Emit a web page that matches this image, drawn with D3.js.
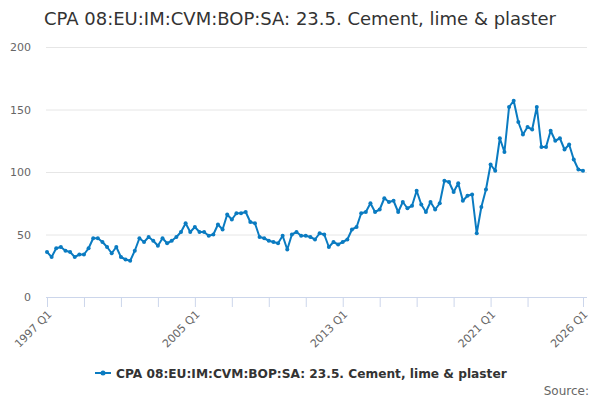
<!DOCTYPE html>
<html>
<head>
<meta charset="utf-8">
<script src="https://cdn.jsdelivr.net/npm/d3@7/dist/d3.min.js"></script>
<style>
  html, body { margin: 0; padding: 0; background: #fff; }
  svg { display: block; font-family: "DejaVu Sans", Verdana, sans-serif; }
</style>
</head>
<body>
<div id="chart"></div>
<script>
const titleText = "CPA 08:EU:IM:CVM:BOP:SA: 23.5. Cement, lime & plaster";
const seriesName = "CPA 08:EU:IM:CVM:BOP:SA: 23.5. Cement, lime & plaster";
const sourceText = "Source:";

const startYear = 1997;
const quarterCount = 117;
const categories = d3.range(quarterCount).map(i => (startYear + Math.floor(i / 4)) + " Q" + (i % 4 + 1));

const values = [
  36, 32, 39, 40, 37, 36, 32, 34, 34, 39, 47, 47, 44, 40, 35, 40,
  32, 30, 29, 37, 47, 44, 48, 45, 41, 47, 43, 45, 48, 52, 59, 52,
  56, 52, 52, 49, 50, 58, 54, 66, 62, 67, 67, 68, 60, 59, 48, 47,
  45, 44, 43, 49, 38, 50, 52, 49, 49, 48, 46, 51, 50, 40, 44, 42,
  44, 46, 54, 56, 67, 68, 75, 68, 70, 79, 76, 77, 68, 76, 71, 73,
  85, 74, 68, 76, 70, 75, 93, 92, 84, 91, 77, 81, 82, 51, 72, 86,
  106, 101, 127, 116, 152, 157, 140, 130, 136, 134, 152, 120, 120, 133, 125, 127,
  118, 122, 110, 102, 101
];

const yTicks = [0, 50, 100, 150, 200];
const xTickLabels = ["1997 Q1", "2005 Q1", "2013 Q1", "2021 Q1", "2026 Q1"];
const xTickMarks = ["1997 Q1", "1999 Q1", "2001 Q1", "2003 Q1", "2005 Q1", "2007 Q1", "2009 Q1",
  "2011 Q1", "2013 Q1", "2015 Q1", "2017 Q1", "2019 Q1", "2021 Q1", "2023 Q1", "2026 Q1"];

const W = 600, H = 400;
const plotLeft = 46, plotRight = 587, plotTop = 47, plotBottom = 297;
const lineColor = "#0a7bc1";

const svg = d3.select("#chart").append("svg").attr("width", W).attr("height", H);

const x = d3.scaleLinear().domain([0, quarterCount - 1]).range([47, 583]);
const y = d3.scaleLinear().domain([0, 200]).range([plotBottom, plotTop]);
const idx = c => categories.indexOf(c);

// Title
svg.append("text").attr("x", 300).attr("y", 25).attr("text-anchor", "middle")
  .attr("font-size", 18).attr("fill", "#333").text(titleText);

// Grid + y labels
const yAxis = d3.axisLeft(y).tickValues(yTicks).tickSize(-(plotRight - plotLeft)).tickPadding(15);
const gy = svg.append("g").attr("transform", `translate(${plotLeft},0)`).call(yAxis);
gy.select(".domain").remove();
gy.selectAll(".tick line").attr("stroke", "#e6e6e6").attr("stroke-width", 1);
gy.selectAll(".tick text").attr("fill", "#666").attr("font-size", 11)
  .attr("font-family", "DejaVu Sans, sans-serif");
gy.selectAll(".tick").filter(d => d === 0).select("line").remove();

// X axis
const xAxis = d3.axisBottom(x).tickValues(xTickMarks.map(idx)).tickSize(10)
  .tickFormat(d => xTickLabels.includes(categories[d]) ? categories[d] : "");
const gx = svg.append("g").attr("transform", `translate(0,${plotBottom})`).call(xAxis);
gx.select(".domain").attr("d", `M${plotLeft},0.5H${plotRight}`).attr("stroke", "#ccd6eb");
gx.selectAll(".tick line").attr("stroke", "#ccd6eb");
gx.selectAll(".tick text").attr("fill", "#666").attr("font-size", 11)
  .attr("font-family", "DejaVu Sans, sans-serif")
  .attr("text-anchor", "end").attr("dy", null)
  .attr("transform", "translate(5,18) rotate(-45)")
  .attr("y", 0).attr("x", 0);

// Line
const data = values.map((v, i) => ({ i, v }));
const line = d3.line().x(d => x(d.i)).y(d => y(d.v));
svg.append("path").datum(data).attr("d", line).attr("fill", "none")
  .attr("stroke", lineColor).attr("stroke-width", 2).attr("stroke-linejoin", "round");
svg.append("g").selectAll("circle").data(data).join("circle")
  .attr("cx", d => x(d.i)).attr("cy", d => y(d.v)).attr("r", 2).attr("fill", lineColor);

// Legend
const lg = svg.append("g").attr("transform", "translate(95,373)");
lg.append("line").attr("x1", 0).attr("x2", 16).attr("y1", 0).attr("y2", 0)
  .attr("stroke", lineColor).attr("stroke-width", 2);
lg.append("circle").attr("cx", 8).attr("cy", 0).attr("r", 2.5).attr("fill", lineColor);
lg.append("text").attr("x", 21).attr("y", 4.5).attr("font-size", 12.2).attr("font-weight", "bold")
  .attr("fill", "#333").text(seriesName);

// Source
svg.append("text").attr("x", 589).attr("y", 395).attr("text-anchor", "end")
  .attr("font-size", 12).attr("fill", "#666").text(sourceText);
</script>
</body>
</html>
